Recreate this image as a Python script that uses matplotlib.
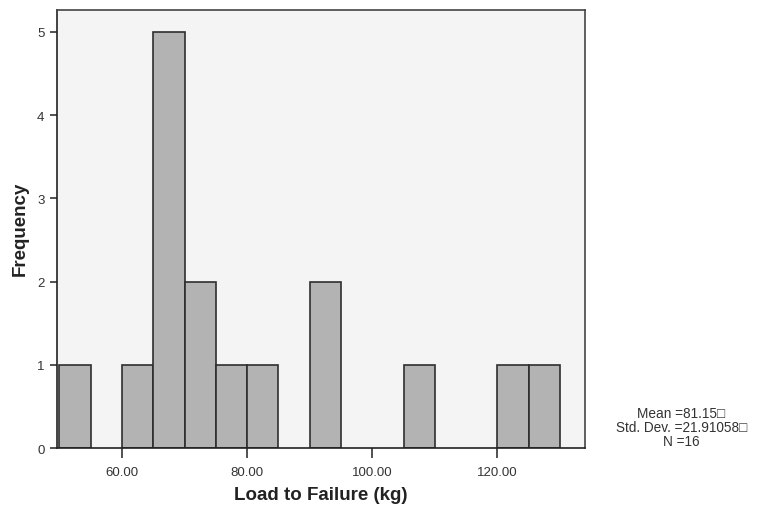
import matplotlib
matplotlib.use("Agg")
import matplotlib.pyplot as plt

plt.rcParams['font.family'] = ['Liberation Sans', 'DejaVu Sans']

bin_edges = [50, 55, 60, 65, 70, 75, 80, 85, 90, 95, 100, 105, 110, 115, 120, 125, 130]
counts = [1, 0, 1, 5, 2, 1, 1, 0, 2, 0, 0, 1, 0, 0, 1, 1]
x_ticks = [60, 80, 100, 120]
y_ticks = [0, 1, 2, 3, 4, 5]
stats_text = "Mean =81.15\u25a1\nStd. Dev. =21.91058\u25a1\nN =16"

fig = plt.figure(figsize=(7.68, 5.10), dpi=100)
ax = fig.add_axes([0.0742, 0.1196, 0.6875, 0.8584])
ax.set_facecolor('#f4f4f4')

lefts = bin_edges[:-1]
widths = [b - a for a, b in zip(bin_edges[:-1], bin_edges[1:])]
for l, w, c in zip(lefts, widths, counts):
    if c > 0:
        ax.bar(l, c, width=w, align='edge', color='#b3b3b3', edgecolor='#2e2e2e', linewidth=1.2)

ax.set_xlim(49.6, 134.0)
ax.set_ylim(0, 5.26)
ax.set_xticks(x_ticks)
ax.set_xticklabels([f"{v:.2f}" for v in x_ticks], fontsize=9.5, color='#333333')
ax.set_yticks(y_ticks)
ax.set_yticklabels([str(v) for v in y_ticks], fontsize=9.5, color='#333333')
ax.tick_params(axis='x', length=7, width=1.2, color='#333333', pad=6)
ax.tick_params(axis='y', length=5, width=1.2, color='#333333', pad=4)
for s in ax.spines.values():
    s.set_color('#444444')
    s.set_linewidth(1.2)
ax.spines['bottom'].set_color('#222222')
ax.spines['left'].set_color('#222222')

ax.set_xlabel("Load to Failure (kg)", fontsize=13.5, fontweight='bold', color='#222222', labelpad=6)
ax.set_ylabel("Frequency", fontsize=13.5, fontweight='bold', color='#222222', labelpad=6)
ax.yaxis.set_label_coords(-0.053, 0.503)

fig.text(0.887, 0.161, stats_text, ha='center', va='center', fontsize=9.8, color='#333333', linespacing=1.0)

fig.savefig("out.png", dpi=100)
